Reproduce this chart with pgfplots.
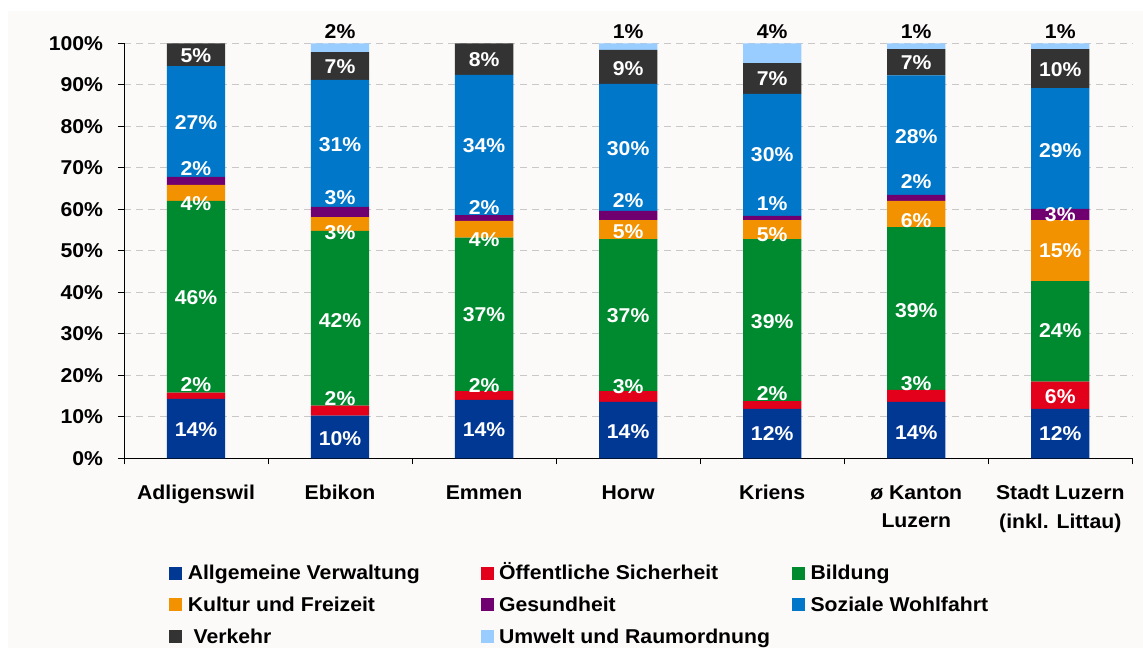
\documentclass[border=0pt]{standalone}
\usepackage{fontspec}
\setmainfont[FakeStretch=1.06]{Liberation Sans}
\usepackage{pgfplots}
\usepackage{pgfplotstable}
\pgfplotsset{compat=1.18}
\definecolor{cverw}{RGB}{0,56,147}
\definecolor{csich}{RGB}{226,0,26}
\definecolor{cbild}{RGB}{0,138,48}
\definecolor{ckult}{RGB}{243,146,0}
\definecolor{cges}{RGB}{112,0,112}
\definecolor{csoz}{RGB}{0,119,200}
\definecolor{cverk}{RGB}{51,51,51}
\definecolor{cumw}{RGB}{153,204,255}
\definecolor{bgcol}{RGB}{251,250,248}
\definecolor{gridc}{RGB}{200,200,200}

\pgfplotstableread{
x verw sich bild kult ges soz verk umw
0 14.3 1.5 46.2 3.9 1.9 26.7 5.5 0
1 10.3 2.4 42.1 3.3 2.5 30.6 6.7 2.1
2 14.1 2.1 37.0 4.0 1.4 33.8 7.6 0
3 13.6 2.6 36.6 4.6 2.2 30.6 8.2 1.6
4 11.9 1.9 39.0 4.6 1.0 29.4 7.4 4.8
5 13.6 2.9 39.2 6.3 1.5 28.8 6.3 1.4
6 11.9 6.6 24.2 14.7 2.7 29.1 9.4 1.4
}\data

\pgfplotstableread{
x y t
0 6.8 14
0 17.7 2
0 38.6 46
0 61.4 4
0 69.9 2
0 80.9 27
0 97.0 5
1 4.8 10
1 14.5 2
1 33.3 42
1 54.4 3
1 62.7 3
1 75.5 31
1 94.4 7
2 6.8 14
2 17.5 2
2 34.5 37
2 52.8 4
2 60.5 2
2 75.3 34
2 96.1 8
3 6.4 14
3 17.3 3
3 34.4 37
3 54.6 5
3 62.0 2
3 74.7 30
3 94.0 9
4 5.9 12
4 15.7 2
4 32.9 39
4 54.0 5
4 61.4 1
4 73.1 30
4 91.4 7
5 6.2 14
5 17.9 3
5 35.7 39
5 57.3 6
5 66.7 2
5 77.5 28
5 95.3 7
6 5.9 12
6 14.8 6
6 30.7 24
6 50.0 15
6 58.8 3
6 74.1 29
6 93.6 10
}\wlabels

\pgfplotstableread{
x y t
1 102.8 2
3 102.8 1
4 102.8 4
5 102.8 1
6 102.8 1
}\blabels

\newcommand{\bigfont}{\fontsize{20}{28.3}\selectfont\bfseries}
\newcommand{\lent}[1]{\makebox[292.8pt][l]{#1}}

\pgfplotsset{common/.style={
  scale only axis, width=1008.4pt, height=415pt,
  xmin=-0.5, xmax=6.5, ymin=0, ymax=100,
  at={(124pt,189.7pt)}, anchor=south west, clip=false}}

\begin{document}
\begin{tikzpicture}[x=1pt,y=1pt]
\useasboundingbox (0,0) rectangle (1143,648);
\fill[white] (0,0) rectangle (1143,648);
\fill[bgcol] (8,0) rectangle (1143,637);
\begin{axis}[common,
  ybar stacked, bar width=58.3pt,
  legend image code/.code={\fill[#1] (0pt,0pt) rectangle (13pt,13pt); \path (18.6pt,0pt);},
  axis x line*=bottom, axis y line*=left,
  axis line style={black, line width=1pt},
  tick align=outside, major tick length=6pt,
  tick style={black, line width=1pt},
  xtick={-0.5,0.5,...,6.5},
  x tick label as interval,
  xticklabels={Adligenswil,Ebikon,Emmen,Horw,Kriens,{ø Kanton\\Luzern},{Stadt Luzern\\(inkl. Littau)}},
  xticklabel style={font=\bigfont, align=center, anchor=north, inner sep=0pt, yshift=-21pt},
  ytick={0,10,...,100},
  yticklabels={0\%,10\%,20\%,30\%,40\%,50\%,60\%,70\%,80\%,90\%,100\%},
  yticklabel style={font=\bigfont, anchor=east, inner sep=0pt, xshift=-14.7pt},
  ymajorgrids, grid style={gridc, line width=1pt, dash pattern=on 7pt off 5pt},
  legend columns=3,
  legend style={at={(0.0448,-0.2371)}, anchor=north west, draw=none, fill=none,
    inner sep=0pt, outer sep=0pt, column sep=0pt, row sep=0pt,
    font=\bigfont, nodes={inner sep=0pt, outer sep=0pt, text height=22.8pt, text depth=9pt},
    cells={anchor=base west}},
]
\addplot[fill=cverw, draw=none] table[x=x,y=verw]{\data};
\addplot[fill=csich, draw=none] table[x=x,y=sich]{\data};
\addplot[fill=cbild, draw=none] table[x=x,y=bild]{\data};
\addplot[fill=ckult, draw=none] table[x=x,y=kult]{\data};
\addplot[fill=cges, draw=none] table[x=x,y=ges]{\data};
\addplot[fill=csoz, draw=none] table[x=x,y=soz]{\data};
\addplot[fill=cverk, draw=none] table[x=x,y=verk]{\data};
\addplot[fill=cumw, draw=none] table[x=x,y=umw]{\data};
\legend{\lent{Allgemeine Verwaltung},\lent{Öffentliche Sicherheit},\lent{Bildung},
  \lent{Kultur und Freizeit},\lent{Gesundheit},\lent{Soziale Wohlfahrt},
  \lent{\ Verkehr},\lent{Umwelt und Raumordnung}}
\end{axis}
\begin{axis}[common, hide axis]
\addplot[draw=none, mark=none, nodes near coords={\pgfplotspointmeta\%},
  point meta=explicit symbolic,
  nodes near coords style={anchor=center, text=white, font=\bigfont, inner sep=0pt}]
  table[x=x,y=y,meta=t]{\wlabels};
\addplot[draw=none, mark=none, nodes near coords={\pgfplotspointmeta\%},
  point meta=explicit symbolic,
  nodes near coords style={anchor=center, text=black, font=\bigfont, inner sep=0pt}]
  table[x=x,y=y,meta=t]{\blabels};
\end{axis}
\end{tikzpicture}
\end{document}
